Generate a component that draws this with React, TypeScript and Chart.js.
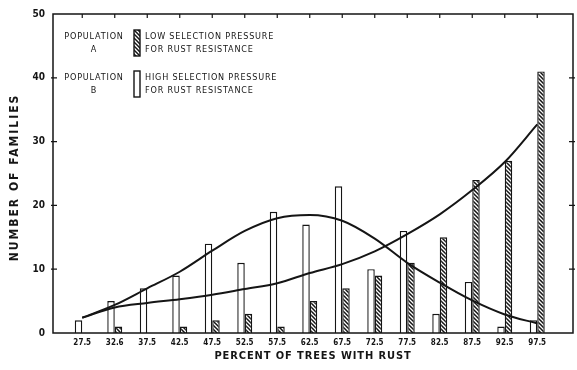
import React, { useEffect, useRef } from 'react';
import { Chart, registerables } from 'chart.js';

Chart.register(...registerables);

// ---- data ----
const tickLabels = ['27.5', '32.6', '37.5', '42.5', '47.5', '52.5', '57.5', '62.5', '67.5', '72.5', '77.5', '82.5', '87.5', '92.5', '97.5'];
const percentWithRust = [27.5, 32.5, 37.5, 42.5, 47.5, 52.5, 57.5, 62.5, 67.5, 72.5, 77.5, 82.5, 87.5, 92.5, 97.5];
const popBHighSelection = [2, 5, 7, 9, 14, 11, 19, 17, 23, 10, 16, 3, 8, 1, 2];
const popALowSelection = [0, 1, 0, 1, 2, 3, 1, 5, 7, 9, 11, 15, 24, 27, 41];
const popBCurve = [2.4, 4.4, 7.0, 9.6, 12.9, 16.0, 18.0, 18.5, 17.6, 14.8, 11.0, 7.9, 5.1, 2.9, 1.5];
const popACurve = [2.4, 4.0, 4.7, 5.3, 6.0, 6.9, 7.8, 9.4, 10.8, 12.8, 15.5, 18.6, 22.4, 26.8, 32.7];
const yTickValues = [0, 10, 20, 30, 40, 50];

const legendRows = [
  { pop: ['POPULATION', 'A'], text: ['LOW SELECTION PRESSURE', 'FOR RUST RESISTANCE'], hatched: true },
  { pop: ['POPULATION', 'B'], text: ['HIGH SELECTION PRESSURE', 'FOR RUST RESISTANCE'], hatched: false },
];

const INK = '#151515';
const FONT = "'DejaVu Sans Condensed', 'DejaVu Sans', sans-serif";

function makeHatch(): CanvasPattern | string {
  const c = document.createElement('canvas');
  const s = 4;
  c.width = s;
  c.height = s;
  const g = c.getContext('2d');
  if (!g) return INK;
  g.fillStyle = '#ffffff';
  g.fillRect(0, 0, s, s);
  g.strokeStyle = INK;
  g.lineWidth = 1.5;
  g.beginPath();
  g.moveTo(-1, -1);
  g.lineTo(s + 1, s + 1);
  g.moveTo(-1, s - 1);
  g.lineTo(1, s + 1);
  g.moveTo(s - 1, -1);
  g.lineTo(s + 1, 1);
  g.stroke();
  const p = g.createPattern(c, 'repeat');
  return p || INK;
}

export default function App() {
  const ref = useRef<HTMLCanvasElement | null>(null);

  useEffect(() => {
    document.body.style.margin = '0';
    const canvas = ref.current;
    if (!canvas) return;
    const hatch = makeHatch();

    const framePlugin = {
      id: 'framePlugin',
      afterDraw(chart: any) {
        const { ctx, chartArea: a, scales } = chart;
        const xs = scales.x;
        const ys = scales.y;
        ctx.save();
        ctx.strokeStyle = INK;
        ctx.lineWidth = 1.5;
        ctx.strokeRect(a.left, a.top, a.right - a.left, a.bottom - a.top);
        ctx.lineWidth = 1.2;
        ctx.beginPath();
        for (const v of percentWithRust) {
          const px = xs.getPixelForValue(v);
          ctx.moveTo(px, a.top);
          ctx.lineTo(px, a.top + 4);
        }
        for (const v of yTickValues.slice(1, -1)) {
          const py = ys.getPixelForValue(v);
          ctx.moveTo(a.left - 2, py);
          ctx.lineTo(a.left + 4, py);
          ctx.moveTo(a.right - 4, py);
          ctx.lineTo(a.right + 2, py);
        }
        ctx.stroke();

        // axis titles
        ctx.fillStyle = INK;
        ctx.font = `bold 11px ${FONT}`;
        (ctx as any).letterSpacing = '0.9px';
        ctx.textAlign = 'center';
        ctx.textBaseline = 'middle';
        ctx.fillText('PERCENT OF TREES WITH RUST', (a.left + a.right) / 2, 356);
        ctx.save();
        ctx.translate(15, (a.top + a.bottom) / 2 + 4);
        ctx.rotate(-Math.PI / 2);
        ctx.font = `bold 12px ${FONT}`;
        (ctx as any).letterSpacing = '2px';
        ctx.fillText('NUMBER OF FAMILIES', 0, 0);
        ctx.restore();

        // legend
        ctx.font = `9px ${FONT}`;
        (ctx as any).letterSpacing = '0.8px';
        legendRows.forEach((row, i) => {
          const top = a.top + 17 + i * 41;
          ctx.textAlign = 'center';
          ctx.fillText(row.pop[0], a.left + 41, top + 6);
          ctx.fillText(row.pop[1], a.left + 41, top + 19);
          ctx.textAlign = 'left';
          ctx.fillText(row.text[0], a.left + 92, top + 6);
          ctx.fillText(row.text[1], a.left + 92, top + 19);
          ctx.fillStyle = row.hatched ? (hatch as any) : '#ffffff';
          ctx.fillRect(a.left + 81, top - 1, 6, 26);
          ctx.lineWidth = 1.4;
          ctx.strokeRect(a.left + 81, top - 1, 6, 26);
          ctx.fillStyle = INK;
        });
        ctx.restore();
      },
    };

    const chart = new Chart(canvas, {
      type: 'bar',
      data: {
        datasets: [
          {
            type: 'line',
            label: 'Population B curve',
            data: percentWithRust.map((x, i) => ({ x, y: popBCurve[i] })),
            borderColor: INK,
            borderWidth: 2,
            pointRadius: 0,
            cubicInterpolationMode: 'monotone',
            fill: false,
            order: 0,
          } as any,
          {
            type: 'line',
            label: 'Population A curve',
            data: percentWithRust.map((x, i) => ({ x, y: popACurve[i] })),
            borderColor: INK,
            borderWidth: 2,
            pointRadius: 0,
            cubicInterpolationMode: 'monotone',
            fill: false,
            order: 0,
          } as any,
          {
            type: 'bar',
            label: 'Population B – high selection pressure',
            data: percentWithRust.map((x, i) => ({ x, y: popBHighSelection[i] })),
            backgroundColor: '#ffffff',
            borderColor: INK,
            borderWidth: 1.4,
            categoryPercentage: 0.46,
            barPercentage: 1,
            order: 1,
          } as any,
          {
            type: 'bar',
            label: 'Population A – low selection pressure',
            data: percentWithRust.map((x, i) => ({ x, y: popALowSelection[i] })),
            backgroundColor: hatch as any,
            borderColor: INK,
            borderWidth: 1.4,
            categoryPercentage: 0.46,
            barPercentage: 1,
            order: 1,
          } as any,
        ],
      },
      options: {
        animation: false,
        responsive: false,
        maintainAspectRatio: false,
        layout: { padding: { top: 13, right: 4, left: 0, bottom: 0 } },
        plugins: { legend: { display: false }, tooltip: { enabled: false } },
        scales: {
          x: {
            type: 'linear',
            offset: false,
            min: 23,
            max: 103,
            grid: { display: false, drawTicks: false, offset: false },
            border: { display: false },
            afterBuildTicks: (s: any) => {
              s.ticks = percentWithRust.map((v) => ({ value: v }));
            },
            afterFit: (s: any) => {
              s.height = 37;
            },
            ticks: {
              autoSkip: false,
              maxRotation: 0,
              padding: 5,
              color: INK,
              font: { family: FONT, size: 8, weight: 'bold' },
              callback: (_v: any, i: number) => tickLabels[i],
            },
          },
          y: {
            min: 0,
            max: 50,
            grid: { display: false, drawTicks: false },
            border: { display: false },
            afterBuildTicks: (s: any) => {
              s.ticks = yTickValues.map((v) => ({ value: v }));
            },
            afterFit: (s: any) => {
              s.width = 53;
            },
            ticks: {
              padding: 8,
              color: INK,
              font: { family: FONT, size: 10, weight: 'bold' },
            },
          },
        },
      },
      plugins: [framePlugin],
    } as any);

    return () => chart.destroy();
  }, []);

  return (
    <div style={{ width: 577, height: 370, background: '#fff' }}>
      <canvas ref={ref} width={577} height={370} style={{ display: 'block' }} />
    </div>
  );
}
